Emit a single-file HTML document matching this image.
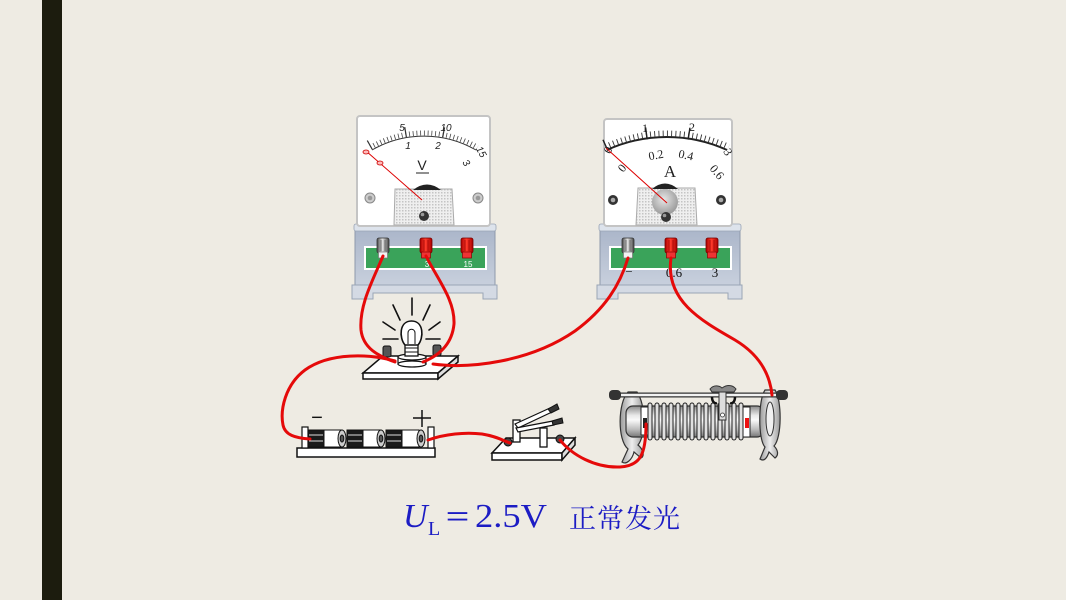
<!DOCTYPE html>
<html><head><meta charset="utf-8">
<style>
html,body{margin:0;padding:0;background:#EEEBE3;}
body{width:1066px;height:600px;overflow:hidden;position:relative;}
svg{position:absolute;left:0;top:0;}
</style></head>
<body>
<svg width="1066" height="600" viewBox="0 0 1066 600" xmlns="http://www.w3.org/2000/svg">
<defs>
<pattern id="dots" width="3" height="3" patternUnits="userSpaceOnUse"><rect width="3" height="3" fill="#efefef"/><rect width="1.5" height="1.5" fill="#c4c4c4"/></pattern>
<linearGradient id="baseg" x1="0" y1="0" x2="0" y2="1"><stop offset="0" stop-color="#aab5c9"/><stop offset="1" stop-color="#c8d0dd"/></linearGradient>
<linearGradient id="redt" x1="0" y1="0" x2="1" y2="0"><stop offset="0" stop-color="#a00"/><stop offset=".45" stop-color="#ff3b2b"/><stop offset="1" stop-color="#a00"/></linearGradient>
<linearGradient id="grayt" x1="0" y1="0" x2="1" y2="0"><stop offset="0" stop-color="#444"/><stop offset=".45" stop-color="#e4e4e4"/><stop offset="1" stop-color="#444"/></linearGradient>
<linearGradient id="cyl" x1="0" y1="0" x2="0" y2="1"><stop offset="0" stop-color="#8a8a8a"/><stop offset=".3" stop-color="#e8e8e8"/><stop offset=".45" stop-color="#fafafa"/><stop offset=".75" stop-color="#bdbdbd"/><stop offset="1" stop-color="#777"/></linearGradient>
<linearGradient id="brk" x1="0" y1="0" x2="1" y2="0"><stop offset="0" stop-color="#999"/><stop offset=".5" stop-color="#eee"/><stop offset="1" stop-color="#999"/></linearGradient>
<radialGradient id="lens" cx=".45" cy=".4" r=".6"><stop offset="0" stop-color="#e6e6e6"/><stop offset="1" stop-color="#9a9a9a"/></radialGradient>
<g id="mbase">
  <rect x="355" y="228" width="140" height="58" fill="url(#baseg)" stroke="#8e99ab" stroke-width="1"/>
  <rect x="354" y="224" width="142" height="7" rx="2" fill="#dde3ec" stroke="#9aa5b6" stroke-width=".8"/>
  <path d="M352,285 H497 V299 H483 V293 H373 V299 H352 Z" fill="#d4dae4" stroke="#9aa5b6" stroke-width="1"/>
  <rect x="365" y="247" width="121" height="22" fill="#3aa35a" stroke="#fff" stroke-width="2"/>
</g>
<g id="tred">
  <rect x="-6" y="238" width="12" height="15" rx="2" fill="url(#redt)" stroke="#700" stroke-width=".8"/>
  <line x1="-2" y1="240" x2="-2" y2="251" stroke="#900" stroke-width=".7"/>
  <line x1="2" y1="240" x2="2" y2="251" stroke="#900" stroke-width=".7"/>
  <rect x="-4.5" y="252" width="9" height="6" fill="#e33" stroke="#800" stroke-width=".7"/>
</g>
<g id="tgray">
  <rect x="-6" y="238" width="12" height="15" rx="2" fill="url(#grayt)" stroke="#333" stroke-width=".8"/>
  <line x1="-2" y1="240" x2="-2" y2="251" stroke="#555" stroke-width=".7"/>
  <line x1="2" y1="240" x2="2" y2="251" stroke="#555" stroke-width=".7"/>
  <rect x="-4.5" y="252" width="9" height="6" fill="#f2f2f2" stroke="#777" stroke-width=".7"/>
</g>
</defs>

<!-- left bar -->
<rect x="42" y="0" width="20" height="600" fill="#1C1C0E"/>

<!-- ===== Voltmeter ===== -->
<use href="#mbase"/>
<use href="#tgray" x="383"/>
<use href="#tred" x="426"/>
<use href="#tred" x="467"/>
<text x="468" y="267" font-family="Liberation Sans, sans-serif" font-size="8" fill="#fff" text-anchor="middle">15</text>
<text x="427" y="267" font-family="Liberation Sans, sans-serif" font-size="8" fill="#fff" text-anchor="middle">3</text>
<line x1="412" y1="298" x2="412" y2="305" stroke="#222" stroke-width="1"/>

<rect x="357" y="116" width="133" height="110" rx="3" fill="#fff" stroke="#c4c4c4" stroke-width="2"/>
<path d="M372,150 A104,104 0 0 1 476,150" fill="none" stroke="#333" stroke-width="1"/>
<path d="M370.5,147.3 A107,107 0 0 1 477.5,147.3" fill="none" stroke="#444" stroke-width="5" stroke-dasharray="0.8 2.93"/>
<path d="M369.25,145.2 A109.5,109.5 0 0 1 478.75,145.2" fill="none" stroke="#333" stroke-width="10" stroke-dasharray="1.2 37"/>
<g font-family="Liberation Sans, sans-serif" font-style="italic" font-size="10" fill="#222" text-anchor="middle">
  <text x="402" y="131">5</text>
  <text x="446" y="131">10</text>
  <text x="481" y="155" transform="rotate(60 481 152)">15</text>
  <text x="408" y="149">1</text>
  <text x="438" y="149">2</text>
  <text x="466" y="166" transform="rotate(55 466 163)">3</text>
  <text x="422" y="170" font-size="14" font-style="normal">V</text>
</g>
<line x1="416" y1="173" x2="429" y2="173" stroke="#222" stroke-width="1"/>
<path d="M394,225 L395,189 L452,189 L454,225 Z" fill="url(#dots)" stroke="#aaa" stroke-width="1"/>
<path d="M413,190 Q427,179 441,190 Z" fill="#222"/>
<circle cx="424" cy="216" r="5" fill="#333"/><circle cx="422.5" cy="214.5" r="1.8" fill="#999"/>
<circle cx="370" cy="198" r="5" fill="#ccc" stroke="#888"/><circle cx="370" cy="198" r="2.3" fill="#999"/>
<circle cx="478" cy="198" r="5" fill="#ccc" stroke="#888"/><circle cx="478" cy="198" r="2.3" fill="#999"/>
<line x1="366" y1="151" x2="422" y2="200" stroke="#d00" stroke-width="1"/>
<ellipse cx="366" cy="152" rx="3" ry="2" fill="#fbb" stroke="#c00" stroke-width=".8"/>
<ellipse cx="380" cy="163" rx="3" ry="2" fill="#fbb" stroke="#c00" stroke-width=".8"/>

<!-- ===== Ammeter ===== -->
<use href="#mbase" x="245"/>
<use href="#tgray" x="628"/>
<use href="#tred" x="671"/>
<use href="#tred" x="712"/>
<g font-family="Liberation Serif, serif" font-size="13" fill="#111" text-anchor="middle">
  <text x="629" y="276">−</text>
  <text x="674" y="277">0.6</text>
  <text x="715" y="277">3</text>
</g>
<rect x="604" y="119" width="128" height="107" rx="3" fill="#fff" stroke="#c4c4c4" stroke-width="2"/>
<path d="M606.9,150 A145,145 0 0 1 727.1,150" fill="none" stroke="#222" stroke-width="2"/>
<path d="M605.4,146.9 A148.5,148.5 0 0 1 728.6,146.9" fill="none" stroke="#333" stroke-width="6" stroke-dasharray="0.9 3.33"/>
<path d="M604.8,145.5 A150,150 0 0 1 729.2,145.5" fill="none" stroke="#222" stroke-width="12" stroke-dasharray="1.4 41.36"/>
<g font-family="Liberation Serif, serif" font-size="12" fill="#222" text-anchor="middle">
  <text x="608" y="154" transform="rotate(-60 608 150)">0</text>
  <text x="645" y="132">1</text>
  <text x="692" y="131">2</text>
  <text x="728" y="156" transform="rotate(60 728 152)">3</text>
  <text x="622" y="172" transform="rotate(-50 622 168)">0</text>
  <text x="656" y="159" transform="rotate(-10 656 155)">0.2</text>
  <text x="686" y="159" transform="rotate(12 686 155)">0.4</text>
  <text x="717" y="176" transform="rotate(50 717 172)">0.6</text>
  <text x="670" y="177" font-size="17">A</text>
</g>
<path d="M636,225 L638,188 L695,188 L697,225 Z" fill="url(#dots)" stroke="#aaa" stroke-width="1"/>
<circle cx="665" cy="202" r="13" fill="url(#lens)"/>
<path d="M652,189 Q665,178 678,189 Z" fill="#222"/>
<circle cx="666" cy="217" r="5" fill="#333"/><circle cx="664.5" cy="215.5" r="1.8" fill="#999"/>
<circle cx="613" cy="200" r="5" fill="#333"/><circle cx="613" cy="200" r="2.3" fill="#aaa"/>
<circle cx="721" cy="200" r="5" fill="#333"/><circle cx="721" cy="200" r="2.3" fill="#aaa"/>
<line x1="606" y1="148" x2="667" y2="203" stroke="#d00" stroke-width="1"/>

<!-- ===== Lamp ===== -->
<g stroke="#111" stroke-width="1.6" stroke-linecap="round">
  <line x1="412" y1="298" x2="412" y2="315"/>
  <line x1="393" y1="305" x2="400" y2="320"/>
  <line x1="430" y1="305" x2="423" y2="320"/>
  <line x1="383" y1="322" x2="395" y2="330"/>
  <line x1="440" y1="322" x2="429" y2="330"/>
  <line x1="383" y1="339" x2="398" y2="339"/>
  <line x1="426" y1="339" x2="440" y2="339"/>
</g>
<polygon points="383,356 458,356 438,373 363,373" fill="#fff" stroke="#111" stroke-width="1.5"/>
<polygon points="363,373 438,373 438,379 363,379" fill="#fff" stroke="#111" stroke-width="1.5"/>
<polygon points="438,373 458,356 458,362 438,379" fill="#ddd" stroke="#111" stroke-width="1.5"/>
<rect x="383" y="346" width="8" height="11" rx="2" fill="#555" stroke="#111"/>
<rect x="433" y="345" width="8" height="11" rx="2" fill="#555" stroke="#111"/>
<rect x="398" y="357" width="28" height="7" fill="#fff" stroke="#111" stroke-width="1.2"/>
<ellipse cx="412" cy="364" rx="14" ry="3" fill="#fff" stroke="#111" stroke-width="1.2"/>
<ellipse cx="412" cy="357" rx="14" ry="3" fill="#fff" stroke="#111" stroke-width="1.2"/>
<rect x="405" y="344" width="13" height="12" fill="#fff" stroke="#111" stroke-width="1.3"/>
<line x1="405" y1="348" x2="418" y2="348" stroke="#111"/><line x1="405" y1="352" x2="418" y2="352" stroke="#111"/>
<path d="M405,345 C399,338 399,321 411.5,321 C424,321 424,338 418,345 Z" fill="#fff" stroke="#111" stroke-width="1.6"/>
<path d="M408,344 L408,333 C408,328 415,328 415,333 L415,344" fill="none" stroke="#111" stroke-width="1"/>

<!-- ===== Battery ===== -->
<rect x="297" y="448" width="138" height="9" fill="#fff" stroke="#111" stroke-width="1.5"/>
<rect x="302" y="427" width="6" height="21" fill="#fff" stroke="#111" stroke-width="1.2"/>
<rect x="428" y="427" width="6" height="21" fill="#fff" stroke="#111" stroke-width="1.2"/>
<g stroke="#111" stroke-width="1">
  <rect x="308" y="430" width="16" height="17" fill="#1a1a1a"/>
  <line x1="309" y1="435" x2="323" y2="435" stroke="#ddd"/><line x1="309" y1="441" x2="323" y2="441" stroke="#ddd"/>
  <rect x="324" y="430" width="17" height="17" fill="#fff"/>
  <ellipse cx="342" cy="438.5" rx="4" ry="8.5" fill="#ccc"/><ellipse cx="342" cy="438.5" rx="1.8" ry="3.5" fill="#555"/>
  <rect x="347" y="430" width="16" height="17" fill="#1a1a1a"/>
  <line x1="348" y1="435" x2="362" y2="435" stroke="#ddd"/><line x1="348" y1="441" x2="362" y2="441" stroke="#ddd"/>
  <rect x="363" y="430" width="17" height="17" fill="#fff"/>
  <ellipse cx="381" cy="438.5" rx="4" ry="8.5" fill="#ccc"/><ellipse cx="381" cy="438.5" rx="1.8" ry="3.5" fill="#555"/>
  <rect x="386" y="430" width="16" height="17" fill="#1a1a1a"/>
  <line x1="387" y1="435" x2="401" y2="435" stroke="#ddd"/><line x1="387" y1="441" x2="401" y2="441" stroke="#ddd"/>
  <rect x="402" y="430" width="17" height="17" fill="#fff"/>
  <ellipse cx="421" cy="438.5" rx="4" ry="8.5" fill="#ccc"/><ellipse cx="421" cy="438.5" rx="1.8" ry="3.5" fill="#555"/>
</g>
<text x="317" y="424" font-family="Liberation Sans, sans-serif" font-size="20" fill="#111" text-anchor="middle">−</text>
<line x1="413" y1="418" x2="431" y2="418" stroke="#111" stroke-width="1.5"/>
<line x1="422" y1="410" x2="422" y2="427" stroke="#111" stroke-width="1.5"/>

<!-- ===== Switch ===== -->
<polygon points="506,438 575,438 562,453 492,453" fill="#fff" stroke="#111" stroke-width="1.5"/>
<polygon points="492,453 562,453 562,460 492,460" fill="#fff" stroke="#111" stroke-width="1.5"/>
<polygon points="562,453 575,438 575,445 562,460" fill="#ddd" stroke="#111" stroke-width="1.5"/>
<rect x="513" y="420" width="7" height="22" fill="#fff" stroke="#111" stroke-width="1.3"/>
<rect x="540" y="428" width="7" height="19" fill="#fff" stroke="#111" stroke-width="1.3"/>
<path d="M515,424 L550,408 L552,412 L518,428 Z" fill="#fff" stroke="#111" stroke-width="1.2"/>
<path d="M516,428 L553,421 L554,425 L518,432 Z" fill="#fff" stroke="#111" stroke-width="1.2"/>
<path d="M548,409 L557,404 L559,409 L551,413 Z" fill="#333" stroke="#111"/>
<path d="M552,421 L562,418 L563,423 L553,425 Z" fill="#333" stroke="#111"/>
<circle cx="508" cy="442" r="4" fill="#444" stroke="#111"/>
<circle cx="560" cy="439" r="4" fill="#444" stroke="#111"/>

<!-- ===== Rheostat ===== -->
<path d="M628,392 C618,402 617,440 628,449 L622,462 C626,465 632,460 634,452 L641,458 C645,456 643,449 638,445 C646,435 646,405 637,392 Z" fill="url(#brk)" stroke="#333" stroke-width="1.2"/>
<rect x="626" y="406" width="138" height="31" rx="7" fill="url(#cyl)" stroke="#333" stroke-width="1.2"/>
<g fill="#e0e0e0" stroke="#222" stroke-width="1">
  <rect x="648" y="403" width="4" height="37" rx="2"/>
  <rect x="655" y="403" width="4" height="37" rx="2"/>
  <rect x="662" y="403" width="4" height="37" rx="2"/>
  <rect x="669" y="403" width="4" height="37" rx="2"/>
  <rect x="676" y="403" width="4" height="37" rx="2"/>
  <rect x="683" y="403" width="4" height="37" rx="2"/>
  <rect x="690" y="403" width="4" height="37" rx="2"/>
  <rect x="697" y="403" width="4" height="37" rx="2"/>
  <rect x="704" y="403" width="4" height="37" rx="2"/>
  <rect x="711" y="403" width="4" height="37" rx="2"/>
  <rect x="718" y="403" width="4" height="37" rx="2"/>
  <rect x="725" y="403" width="4" height="37" rx="2"/>
  <rect x="732" y="403" width="4" height="37" rx="2"/>
  <rect x="739" y="403" width="4" height="37" rx="2"/>
</g>
<rect x="641" y="407" width="7" height="28" fill="#fff" stroke="#222" stroke-width="1"/>
<rect x="643" y="418" width="4" height="10" fill="#222"/>
<rect x="743" y="407" width="7" height="30" fill="#fff" stroke="#222" stroke-width="1"/>
<rect x="745" y="418" width="4" height="10" fill="#e11"/>
<path d="M765,390 C758,400 758,440 765,447 L760,459 C764,462 767,458 769,452 L775,458 C779,455 778,450 774,446 C782,438 782,400 775,390 Z" fill="url(#brk)" stroke="#333" stroke-width="1.2"/>
<ellipse cx="770" cy="419" rx="4" ry="17" fill="#f0f0f0" stroke="#333" stroke-width="1"/>
<line x1="615" y1="395" x2="783" y2="395" stroke="#333" stroke-width="5"/>
<line x1="615" y1="395" x2="783" y2="395" stroke="#f2f2f2" stroke-width="2.5"/>
<rect x="609" y="390" width="12" height="10" rx="4" fill="#333"/>
<rect x="776" y="390" width="12" height="10" rx="4" fill="#333"/>
<path d="M710,389 C714,384 720,386 722,388 C726,385 732,384 736,389 L734,392 L712,392 Z" fill="#888" stroke="#333" stroke-width="1"/>
<path d="M712,397 C712,402 715,404 717,403" fill="none" stroke="#111" stroke-width="2.5"/>
<path d="M735,397 C735,402 732,404 730,403" fill="none" stroke="#111" stroke-width="2.5"/>
<rect x="719" y="392" width="7" height="28" fill="#ddd" stroke="#333" stroke-width="1"/>
<circle cx="722.5" cy="415" r="2" fill="#fff" stroke="#333" stroke-width=".8"/>

<!-- ===== Wires ===== -->
<g fill="none" stroke="#E50A0A" stroke-width="3" stroke-linecap="round">
  <path d="M383,256 C373,280 359,305 361,330 C363,348 378,356 395,362"/>
  <path d="M426,256 C438,280 455,300 454,324 C452,345 438,356 423,362"/>
  <path d="M433,364 C470,369 530,362 575,331 C605,309 620,285 628,258"/>
  <path d="M395,361 C370,354 330,352 305,370 C285,385 280,410 283,425 C285,435 295,438 310,439"/>
  <path d="M428,440 C445,434 465,432 482,434 C495,436 502,440 510,443"/>
  <path d="M560,440 C572,455 595,468 620,467 C640,466 646,455 646,424"/>
  <path d="M671,258 C665,300 700,320 735,340 C760,355 770,375 772,395"/>
</g>

<!-- ===== Caption ===== -->
<g fill="#1C1CC4">
  <text x="403" y="527" font-family="Liberation Serif, serif" font-style="italic" font-size="34">U</text>
  <text x="428" y="535" font-family="Liberation Serif, serif" font-size="20">L</text>
  <text x="444" y="527" font-family="Noto Sans CJK SC, sans-serif" font-size="28" textLength="27" lengthAdjust="spacingAndGlyphs">＝</text>
  <text x="475" y="527" font-family="Liberation Serif, serif" font-size="34" textLength="72" lengthAdjust="spacingAndGlyphs">2.5V</text>
  <text x="569" y="528" font-family="Liberation Serif, Noto Serif CJK SC, serif" font-size="27" textLength="111" lengthAdjust="spacing">正常发光</text>
</g>
</svg>
</body></html>
